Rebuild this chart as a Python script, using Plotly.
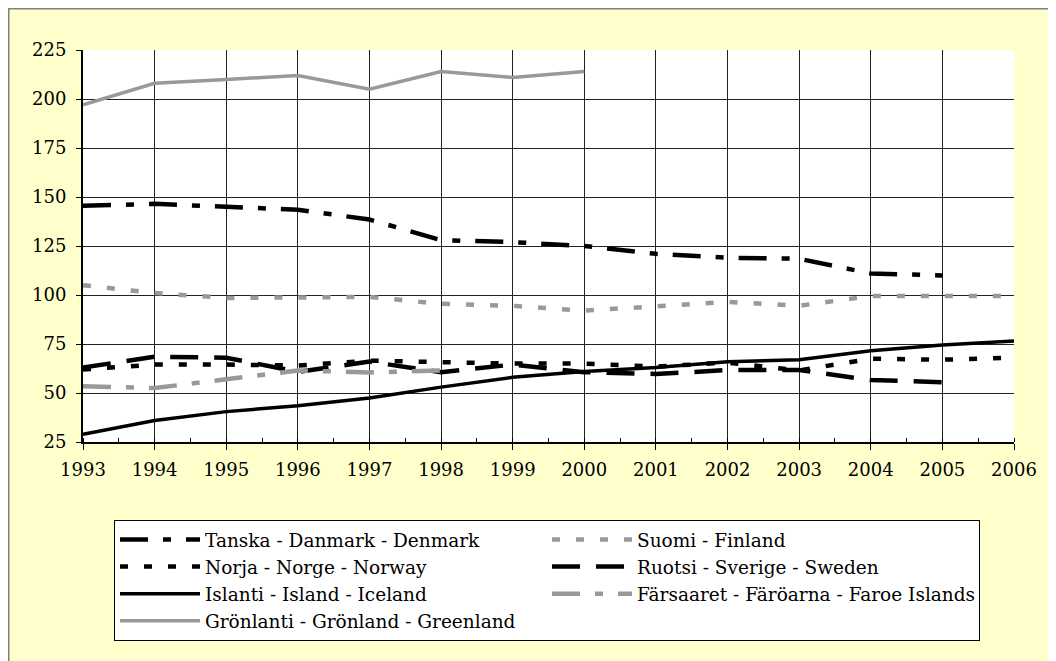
import plotly.graph_objects as go

years = list(range(1993, 2007))

denmark = [145.5, 146.5, 145, 143.5, 138.5, 128, 127, 125, 121, 119, 118.5, 111, 110, None]
finland = [105, 101, 98.5, 98.5, 99, 95.5, 94.5, 92, 94, 96.5, 94.5, 99.5, 99.5, 99.5]
norway = [62, 64.5, 64.5, 64, 66.5, 65.5, 65, 65, 63.5, 65.5, 61.5, 67.5, 67, 68]
sweden = [63, 68.5, 68, 60.8, 66, 60.6, 64.5, 60.6, 59.7, 61.7, 61.7, 56.6, 55.5, None]
iceland = [29, 36, 40.5, 43.5, 47.5, 53, 58, 61, 63, 66, 67, 71.5, 74.5, 76.5]
faroe = [53.5, 52.5, 57, 61.5, 60.5, 61.5, None, None, None, None, None, None, None, None]
greenland = [197, 208, 210, 212, 205, 214, 211, 214, None, None, None, None, None, None]

names = [
    "Tanska - Danmark - Denmark",
    "Suomi - Finland",
    "Norja - Norge - Norway",
    "Ruotsi - Sverige - Sweden",
    "Islanti - Island - Iceland",
    "Färsaaret - Färöarna - Faroe Islands",
    "Grönlanti - Grönland - Greenland",
]
series = [denmark, finland, norway, sweden, iceland, faroe, greenland]
GRAY = "#999999"
styles = [
    dict(color="black", width=4.5, dash="28px,15px,8px,15px"),
    dict(color=GRAY, width=4.5, dash="8px,16px"),
    dict(color="black", width=4.5, dash="8px,16px"),
    dict(color="black", width=4.5, dash="28px,16px"),
    dict(color="black", width=3.5, dash="solid"),
    dict(color=GRAY, width=4.5, dash="28px,15px,8px,15px"),
    dict(color=GRAY, width=3.5, dash="solid"),
]

fig = go.Figure()
for n, s, st in zip(names, series, styles):
    fig.add_trace(go.Scatter(x=years, y=s, name=n, mode="lines", line=st,
                             connectgaps=False, hoverinfo="skip"))

SERIF = "DejaVu Serif"
L, T, PW, PH = 75, 42, 931, 392

fig.update_layout(
    width=1056, height=661,
    margin=dict(l=L, r=1056 - L - PW, t=T, b=661 - T - PH, autoexpand=False),
    paper_bgcolor="#FFFFCC",
    plot_bgcolor="white",
    font=dict(family=SERIF, size=18, color="black"),
    showlegend=True,
    legend=dict(
        orientation="h",
        x=(114 - 83) / PW, y=(442 - 520) / PH,
        xanchor="left", yanchor="top",
        bgcolor="white", bordercolor="black", borderwidth=1,
        font=dict(family=SERIF, size=18.5, color="black"),
        itemwidth=80,
        entrywidth=337, entrywidthmode="pixels",
        traceorder="normal",
        tracegroupgap=0,
    ),
    xaxis=dict(
        range=[1993, 2006], tickmode="linear", tick0=1993, dtick=1,
        showgrid=True, gridcolor="#222222", gridwidth=1,
        showline=True, linecolor="black", linewidth=2, mirror=False,
        ticks="outside", ticklen=6, tickwidth=1, tickcolor="black",
        minor=dict(dtick=0.5, tick0=1993, ticks="inside", ticklen=4,
                   tickcolor="black", tickwidth=1, showgrid=False),
        zeroline=False, tickfont=dict(family=SERIF, size=18, color="black"),
        ticklabelstandoff=4,
        fixedrange=True,
    ),
    yaxis=dict(
        range=[25, 225], tickmode="linear", tick0=25, dtick=25,
        showgrid=True, gridcolor="#222222", gridwidth=1,
        showline=True, linecolor="black", linewidth=2,
        ticks="outside", ticklen=5, tickwidth=1, tickcolor="black",
        zeroline=False, tickfont=dict(family=SERIF, size=18, color="black"),
        ticklabelstandoff=6,
        fixedrange=True,
    ),
    shapes=[
        dict(type="line", xref="paper", yref="paper",
             x0=-L / PW, x1=(1056 - L) / PW,
             y0=(PH + T - 0.75) / PH, y1=(PH + T - 0.75) / PH,
             line=dict(color="#808080", width=1.5), layer="above"),
        dict(type="line", xref="paper", yref="paper",
             x0=(-L + 0.75) / PW, x1=(-L + 0.75) / PW,
             y0=-(661 - T - PH) / PH, y1=(PH + T) / PH,
             line=dict(color="#808080", width=1.5), layer="above"),
    ],
)

fig.write_html("out.html")
